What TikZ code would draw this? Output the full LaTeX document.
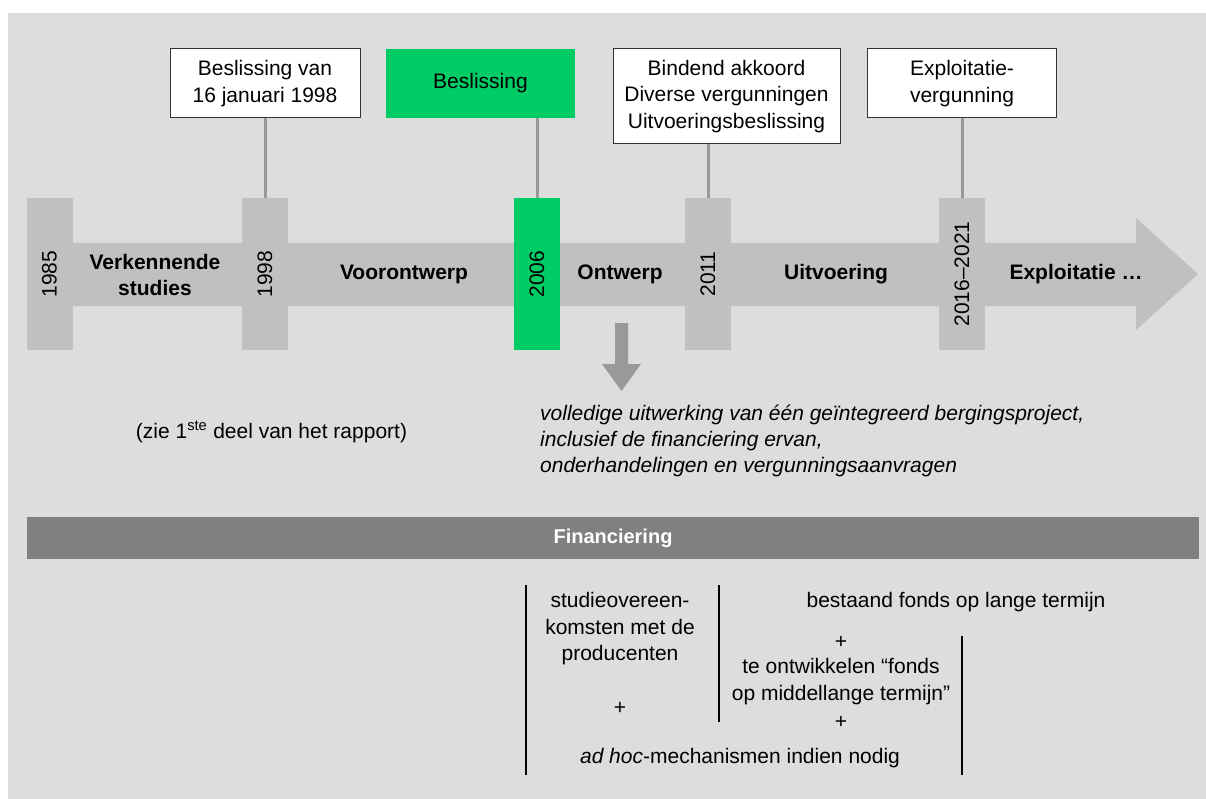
\documentclass[tikz,border=0pt]{standalone}
\usepackage{fontspec}
\setmainfont{Liberation Sans}
\definecolor{bggray}{HTML}{DDDDDD}
\definecolor{tabgray}{HTML}{C0C0C0}
\definecolor{conngray}{HTML}{999999}
\definecolor{fingray}{HTML}{808080}
\definecolor{mygreen}{HTML}{00CC66}
\definecolor{boxborder}{HTML}{333333}
\begin{document}
\begin{tikzpicture}[x=1pt,y=-1pt,
  every node/.style={font=\fontsize{21}{26.5}\selectfont, inner sep=0pt},
  tabbox/.style={fill=tabgray, minimum width=46, minimum height=152},
  greentab/.style={fill=mygreen, minimum width=46, minimum height=152},
  yearlabel/.style={rotate=90},
  phase/.style={font=\fontsize{21}{26.5}\selectfont\bfseries, align=center},
  infobox/.style={draw=boxborder, line width=1pt, fill=white, align=center},
  greenbox/.style={fill=mygreen, align=center},
  conn/.style={draw=conngray, line width=3pt},
  sepline/.style={draw=black, line width=1.8pt},
  plaintext/.style={align=center}
]
\useasboundingbox (0,0) rectangle (1206,799);
% background
\fill[bggray] (8,13) rectangle (1206,799);

% timeline arrow
\fill[tabgray] (27,243) -- (1136,243) -- (1136,218) -- (1198,274) -- (1136,330) -- (1136,306) -- (27,306) -- cycle;

% tabs
\node[tabbox] (t1985) at (49.5,274) {};
\node[tabbox] (t1998) at (265,274) {};
\node[greentab] (t2006) at (537,274) {};
\node[tabbox] (t2011) at (708,274) {};
\node[tabbox] (t2016) at (962,274) {};

\node[yearlabel] (y1985) at (t1985.center) {1985};
\node[yearlabel] (y1998) at (t1998.center) {1998};
\node[yearlabel] (y2006) at (t2006.center) {2006};
\node[yearlabel] (y2011) at (t2011.center) {2011};
\node[yearlabel] (y2016) at (t2016.center) {2016–2021};

% phase labels
\node[phase] (p1) at (155,275) {Verkennende\\studies};
\node[phase] (p2) at (404,274) {Voorontwerp};
\node[phase] (p3) at (620,274) {Ontwerp};
\node[phase] (p4) at (836,274) {Uitvoering};
\node[phase] (p5) at (1076,274) {Exploitatie …};

% decision boxes
\node[infobox, minimum width=190, minimum height=69] (b1) at (265,83.5) {Beslissing van\\16 januari 1998};
\node[greenbox, minimum width=189, minimum height=69] (b2) at (480.5,83.5) {Beslissing};
\node[infobox, minimum width=227, minimum height=95] (b3) at (726.5,96.5) {Bindend akkoord\\Diverse vergunningen\\Uitvoeringsbeslissing};
\node[infobox, minimum width=189.5, minimum height=69] (b4) at (962,83.5) {Exploitatie-\\vergunning};

% connectors
\draw[conn] (b1.south) -- (t1998.north);
\draw[conn] (t2006.north |- b2.south) -- (t2006.north);
\draw[conn] (t2011.north |- b3.south) -- (t2011.north);
\draw[conn] (b4.south) -- (t2016.north);

% down arrow
\fill[conngray] (615,323) -- (628,323) -- (628,364) -- (641,364) -- (621.5,391) -- (602,364) -- (615,364) -- cycle;

% texts below the timeline
\node[plaintext] (zie) at (271.5,432) {(zie 1\textsuperscript{ste} deel van het rapport)};
\node[align=left, anchor=west, font=\fontsize{21}{26}\selectfont\itshape] (ontw) at (540,441)
  {volledige uitwerking van één geïntegreerd bergingsproject,\\inclusief de financiering ervan,\\onderhandelingen en vergunningsaanvragen};

% financiering bar
\node[fill=fingray, minimum width=1172, minimum height=42, text=white, font=\fontsize{20}{24}\selectfont\bfseries] (fin) at (613,538) {Financiering};

% lower block
\coordinate (l1t) at (526,585);
\coordinate (l1b) at (526,775);
\coordinate (l2t) at (719,585);
\coordinate (l2b) at (719,722);
\coordinate (l3t) at (962,636);
\coordinate (l3b) at (962,775);
\draw[sepline] (l1t) -- (l1b);
\draw[sepline] (l2t) -- (l2b);
\draw[sepline] (l3t) -- (l3b);

\node[plaintext] (studie) at (620,629) {studieovereen-\\komsten met de\\producenten};
\node[plaintext] (plus1) at (620,708) {+};
\node[plaintext] (adhoc) at (740,758) {\textit{ad hoc}-mechanismen indien nodig};
\node[plaintext] (bestaand) at (956,602) {bestaand fonds op lange termijn};
\node[plaintext] (plus2) at (841,642) {+};
\node[plaintext] (ontwikkel) at (841,681.5) {te ontwikkelen “fonds\\op middellange termijn”};
\node[plaintext] (plus3) at (841,722) {+};
\end{tikzpicture}
\end{document}
